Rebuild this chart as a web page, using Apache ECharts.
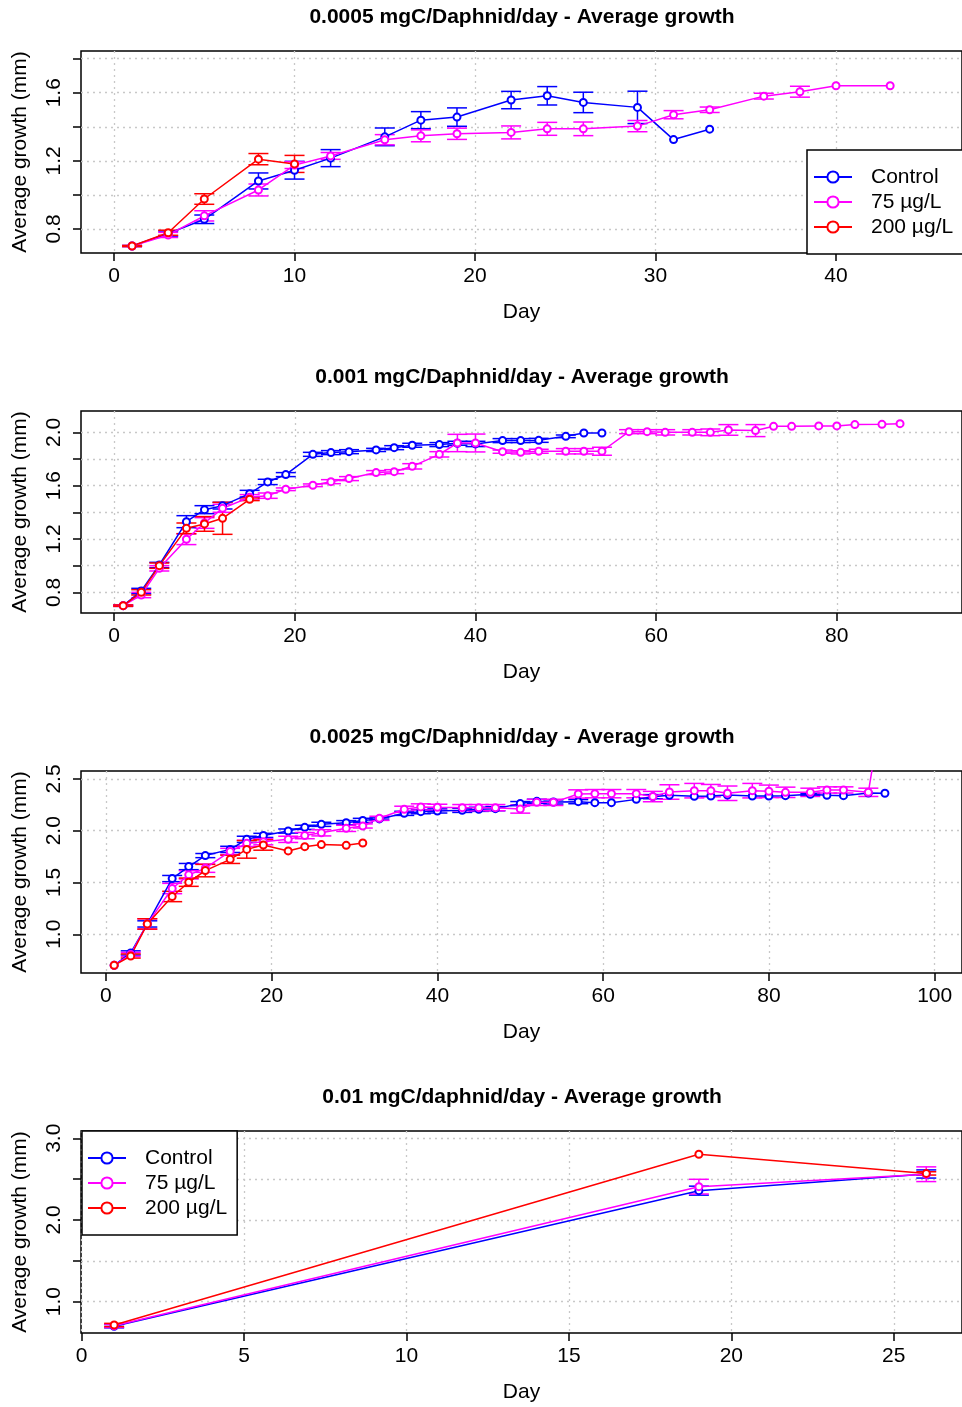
<!DOCTYPE html>
<html><head><meta charset="utf-8">
<script src="https://cdn.jsdelivr.net/npm/echarts@6/dist/echarts.min.js"></script>
<style>html,body{margin:0;padding:0;background:#fff}#c{width:962px;height:1407px}</style>
</head><body><div id="c"></div><script>
const FONT = '"Liberation Sans", Arial, Helvetica, sans-serif';
const NAMES = ['Control', '75 µg/L', '200 µg/L'];
const COLORS = ['#0000FF', '#FF00FF', '#FF0000'];

const titles = [
  '0.0005 mgC/Daphnid/day - Average growth',
  '0.001 mgC/Daphnid/day - Average growth',
  '0.0025 mgC/Daphnid/day - Average growth',
  '0.01 mgC/daphnid/day - Average growth'
];

// ---- Panel 1 (0.0005) ----
const p1ControlDays = [1,3,5,8,10,12,15,17,19,22,24,26,29,31,33];
const p1ControlMean = [0.70,0.773,0.857,1.082,1.145,1.216,1.341,1.439,1.457,1.557,1.582,1.543,1.514,1.325,1.386];
const p1ControlErr  = [0.003,0.015,0.025,0.047,0.052,0.05,0.052,0.05,0.054,0.051,0.054,0.06,0.095,0,0];
const p1T75Days = [1,3,5,8,10,12,15,17,19,22,24,26,29,31,33,36,38,40,43];
const p1T75Mean = [0.70,0.765,0.877,1.029,1.175,1.229,1.324,1.347,1.359,1.367,1.388,1.388,1.404,1.471,1.50,1.58,1.606,1.641,1.641];
const p1T75Err  = [0.003,0.015,0.03,0.035,0.02,0.02,0.03,0.035,0.033,0.038,0.038,0.04,0.033,0.024,0.016,0.017,0.032,0,0];
const p1T200Days = [1,3,5,8,10];
const p1T200Mean = [0.70,0.778,0.976,1.210,1.182];
const p1T200Err  = [0.003,0.015,0.031,0.033,0.05];

// ---- Panel 2 (0.001) ----
const p2ControlDays = [1,3,5,8,10,12,15,17,19,22,24,26,29,31,33,36,38,40,43,45,47,50,52,54];
const p2ControlMean = [0.70,0.81,1.005,1.33,1.42,1.45,1.54,1.628,1.683,1.835,1.848,1.855,1.868,1.885,1.903,1.908,1.918,1.913,1.938,1.938,1.94,1.97,1.995,1.995];
const p2ControlErr  = [0.005,0.02,0.02,0.045,0.03,0.025,0.025,0.02,0.015,0.015,0.015,0.015,0.012,0.015,0.015,0.015,0.015,0.02,0.015,0.015,0.015,0.01,0,0];
const p2T75Days = [1,3,5,8,10,12,15,17,19,22,24,26,29,31,33,36,38,40,43,45,47,50,52,54,57,59,61,64,66,68,71,73,75,78,80,82,85,87];
const p2T75Mean = [0.70,0.78,0.98,1.198,1.32,1.43,1.513,1.525,1.573,1.603,1.63,1.653,1.698,1.705,1.745,1.835,1.92,1.92,1.855,1.85,1.858,1.858,1.858,1.858,2.005,2.005,2.0,2.0,2.0,2.018,2.013,2.045,2.045,2.048,2.048,2.058,2.06,2.065];
const p2T75Err  = [0.005,0.02,0.02,0.04,0.04,0.03,0.02,0.02,0.01,0.01,0.015,0.015,0.015,0.015,0.02,0.02,0.065,0.067,0.012,0.012,0.015,0.02,0.02,0.03,0.015,0.015,0.02,0.02,0.025,0.04,0.045,0,0,0,0,0,0,0];
const p2T200Days = [1,3,5,8,10,12,15];
const p2T200Mean = [0.70,0.80,1.0,1.28,1.313,1.355,1.498];
const p2T200Err  = [0.005,0.02,0.02,0.04,0.055,0.12,0.01];

// ---- Panel 3 (0.0025) ----
const p3ControlDays = [1,3,5,8,10,12,15,17,19,22,24,26,29,31,33,36,38,40,43,45,47,50,52,54,57,59,61,64,66,68,71,73,75,78,80,82,85,87,89,92,94];
const p3ControlMean = [0.70,0.82,1.10,1.538,1.654,1.76,1.82,1.917,1.955,1.997,2.033,2.062,2.078,2.10,2.114,2.168,2.184,2.191,2.197,2.207,2.213,2.262,2.284,2.278,2.281,2.271,2.271,2.303,2.329,2.342,2.332,2.336,2.345,2.336,2.336,2.339,2.352,2.342,2.339,2.365,2.362];
const p3ControlErr  = [0,0.02,0.03,0.03,0.03,0.02,0.03,0.03,0.02,0.02,0.02,0.02,0.02,0.02,0.01,0.02,0.02,0.02,0.02,0.02,0.02,0.02,0.02,0.02,0.02,0,0,0,0.02,0,0,0,0,0,0,0,0.01,0,0,0,0];
const p3T75Days = [1,3,5,8,10,12,15,17,19,22,24,26,29,31,33,36,38,40,43,45,47,50,52,54,57,59,61,64,66,68,71,73,75,78,80,82,85,87,89,92,94];
const p3T75Mean = [0.70,0.805,1.10,1.442,1.574,1.638,1.80,1.878,1.894,1.917,1.953,1.98,2.023,2.046,2.12,2.207,2.23,2.226,2.223,2.223,2.223,2.21,2.274,2.274,2.355,2.358,2.358,2.358,2.33,2.374,2.387,2.387,2.362,2.387,2.381,2.371,2.371,2.394,2.394,2.371,3.35];
const p3T75Err  = [0,0.02,0.05,0.05,0.04,0.04,0.03,0.03,0.03,0.03,0.03,0.03,0.03,0.02,0.02,0.03,0.03,0.03,0.03,0.03,0.03,0.04,0.03,0.03,0.04,0.04,0.04,0.04,0.05,0.07,0.07,0.06,0.07,0.07,0.06,0.05,0.04,0.03,0.03,0.04,0];
const p3T200Days = [1,3,5,8,10,12,15,17,19,22,24,26,29,31];
const p3T200Mean = [0.70,0.79,1.10,1.365,1.503,1.615,1.724,1.82,1.862,1.805,1.846,1.866,1.859,1.882];
const p3T200Err  = [0,0.02,0.05,0.05,0.04,0.06,0.04,0.085,0.05,0,0,0,0,0];

// ---- Panel 4 (0.01) ----
const p4ControlDays = [1,19,26];
const p4ControlMean = [0.70,2.359,2.563];
const p4ControlErr  = [0.02,0.055,0.05];
const p4T75Days = [1,19,26];
const p4T75Mean = [0.705,2.408,2.56];
const p4T75Err  = [0.02,0.09,0.09];
const p4T200Days = [1,19,26];
const p4T200Mean = [0.715,2.804,2.57];
const p4T200Err  = [0.02,0,0.02];

// ---- axes ----
const xTickValues = [[0,10,20,30,40],[0,20,40,60,80],[0,20,40,60,80,100],[0,5,10,15,20,25]];
const yTickValues = [[0.8,1.0,1.2,1.4,1.6,1.8],[0.8,1.0,1.2,1.4,1.6,1.8,2.0],[1.0,1.5,2.0,2.5],[1.0,1.5,2.0,2.5,3.0]];
const yLabelValues = [[0.8,1.2,1.6],[0.8,1.2,1.6,2.0],[1.0,1.5,2.0,2.5],[1.0,2.0,3.0]];
const xRanges = [[-1.83,46.98],[-3.67,93.86],[-3.0,103.3],[-0.02,27.1]];
const yRanges = [[0.659,1.845],[0.645,2.160],[0.626,2.577],[0.617,3.089]];
const gridTops = [51,411,771,1131];

const panels = [
  [[p1ControlDays,p1ControlMean,p1ControlErr],[p1T75Days,p1T75Mean,p1T75Err],[p1T200Days,p1T200Mean,p1T200Err]],
  [[p2ControlDays,p2ControlMean,p2ControlErr],[p2T75Days,p2T75Mean,p2T75Err],[p2T200Days,p2T200Mean,p2T200Err]],
  [[p3ControlDays,p3ControlMean,p3ControlErr],[p3T75Days,p3T75Mean,p3T75Err],[p3T200Days,p3T200Mean,p3T200Err]],
  [[p4ControlDays,p4ControlMean,p4ControlErr],[p4T75Days,p4T75Mean,p4T75Err],[p4T200Days,p4T200Mean,p4T200Err]]
];

function errRenderer(color) {
  return function (params, api) {
    const x = api.value(0), y = api.value(1), e = api.value(2);
    if (!e) return null;
    const top = api.coord([x, y + e]);
    const bot = api.coord([x, y - e]);
    const style = { stroke: color, lineWidth: 1.5, fill: null };
    return {
      type: 'group',
      children: [
        { type: 'line', shape: { x1: top[0], y1: top[1], x2: bot[0], y2: bot[1] }, style },
        { type: 'line', shape: { x1: top[0] - 10, y1: top[1], x2: top[0] + 10, y2: top[1] }, style },
        { type: 'line', shape: { x1: bot[0] - 10, y1: bot[1], x2: bot[0] + 10, y2: bot[1] }, style }
      ]
    };
  };
}

const grids = [], xAxes = [], yAxes = [], series = [];
gridTops.forEach((top, i) => {
  grids.push({ left: 81, top: top, width: 886, height: 202, show: true, borderColor: '#000', borderWidth: 1.5, backgroundColor: 'transparent' });
  xAxes.push({
    type: 'value', gridIndex: i, min: xRanges[i][0], max: xRanges[i][1],
    name: 'Day', nameLocation: 'middle', nameGap: 49,
    nameTextStyle: { fontSize: 21, color: '#000', fontFamily: FONT },
    axisLine: { show: false, onZero: false },
    axisTick: { show: true, length: 8, customValues: xTickValues[i], lineStyle: { color: '#000', width: 1.5 } },
    axisLabel: { customValues: xTickValues[i], fontSize: 21, color: '#000', margin: 13, fontFamily: FONT },
    splitLine: { show: true, lineStyle: { color: '#c8c8c8', type: [2, 4], width: 1.3 } }
  });
  yAxes.push({
    type: 'value', gridIndex: i, min: yRanges[i][0], max: yRanges[i][1],
    name: 'Average growth (mm)', nameLocation: 'middle', nameGap: 50, nameRotate: 90,
    nameTextStyle: { fontSize: 21, color: '#000', fontFamily: FONT },
    axisLine: { show: false, onZero: false },
    axisTick: { show: true, length: 8, customValues: yTickValues[i], lineStyle: { color: '#000', width: 1.5 } },
    axisLabel: { customValues: yLabelValues[i], rotate: 90, fontSize: 21, color: '#000', margin: 16, fontFamily: FONT,
      formatter: v => Number(v).toFixed(1) },
    splitLine: { show: true, lineStyle: { color: '#c8c8c8', type: [2, 4], width: 1.3 } }
  });
  panels[i].forEach((grp, k) => {
    const [days, mean, err] = grp;
    series.push({
      type: 'line', name: NAMES[k], xAxisIndex: i, yAxisIndex: i,
      data: days.map((d, j) => [d, mean[j]]),
      symbol: 'emptyCircle', symbolSize: 7, clip: true,
      lineStyle: { color: COLORS[k], width: 1.5 },
      itemStyle: { color: COLORS[k], borderWidth: 1.5 },
      animation: false, z: 3
    });
    series.push({
      type: 'custom', name: NAMES[k] + ' error', xAxisIndex: i, yAxisIndex: i,
      data: days.map((d, j) => [d, mean[j], err[j]]),
      encode: { x: 0, y: 1 },
      renderItem: errRenderer(COLORS[k]),
      animation: false, z: 3, silent: true
    });
  });
});

const legendCommon = {
  data: NAMES, orient: 'vertical', itemGap: 1, itemWidth: 38, itemHeight: 14,
  borderColor: '#000', borderWidth: 1.5, borderRadius: 0, backgroundColor: '#fff',
  textStyle: { fontSize: 21, lineHeight: 24, color: '#000', fontFamily: FONT, padding: [0, 0, 0, 14] },
  selectedMode: false, z: 10
};

const chart = echarts.init(document.getElementById('c'), null, { renderer: 'canvas' });
chart.setOption({
  backgroundColor: '#fff',
  animation: false,
  grid: grids, xAxis: xAxes, yAxis: yAxes, series: series,
  legend: [
    Object.assign({}, legendCommon, { left: 807, top: 150, padding: [15, 40, 15, 6] }),
    Object.assign({}, legendCommon, { left: 82, top: 1131, padding: [15, 10, 15, 5] })
  ],
  graphic: titles.map((t, i) => ({
    type: 'text', x: 522, y: gridTops[i] - 34, z: 20,
    style: { text: t, fill: '#000', font: 'bold 21px ' + FONT, align: 'center', verticalAlign: 'middle' }
  }))
});
</script></body></html>
